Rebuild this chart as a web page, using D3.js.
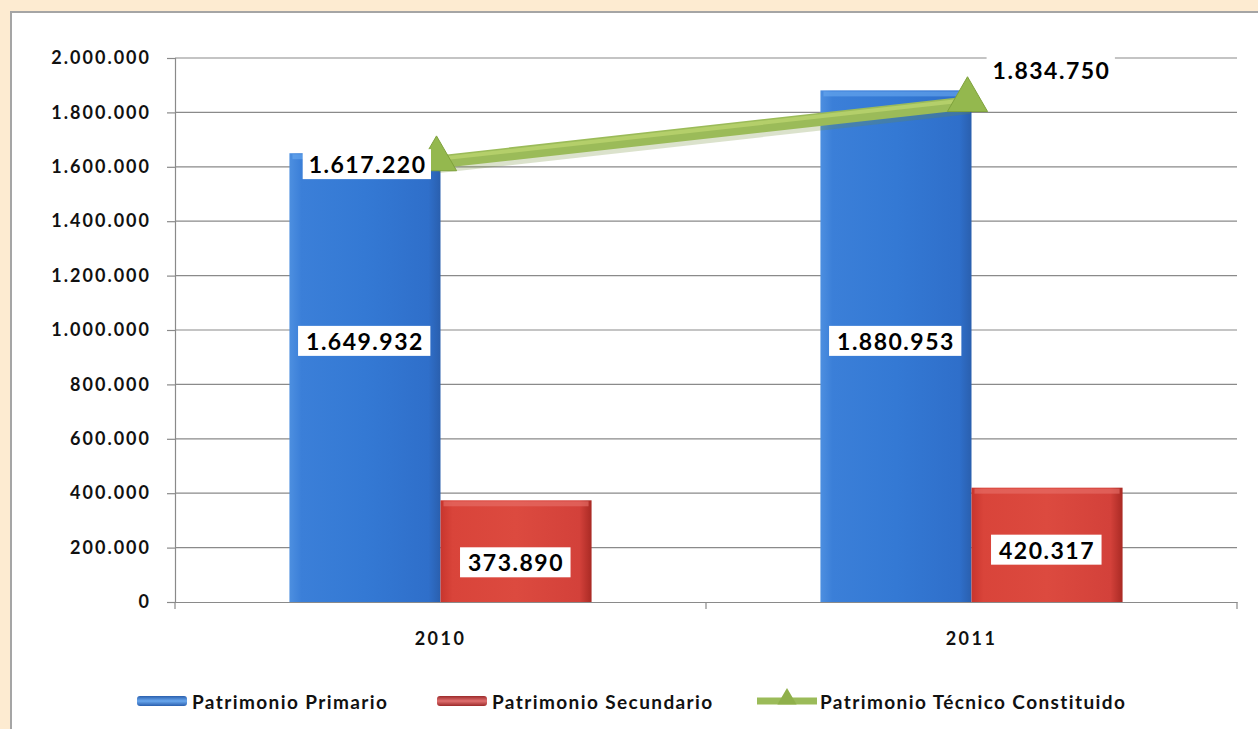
<!DOCTYPE html>
<html>
<head>
<meta charset="utf-8">
<script src="https://cdn.jsdelivr.net/npm/d3@7"></script>
<style>
  body { margin: 0; background: #fdebd1; }
  svg { display: block; font-family: Lato, "Open Sans", sans-serif; font-weight: bold; }
</style>
</head>
<body>
<svg></svg>
<script>
// -----------------------------
// DATA
// -----------------------------
const years = ["2010", "2011"];
const primario = [1649932, 1880953];
const secundario = [373890, 420317];
const tecnico = [1617220, 1834750];
const yTicks = [0, 200000, 400000, 600000, 800000, 1000000, 1200000, 1400000, 1600000, 1800000, 2000000];
const seriesNames = ["Patrimonio Primario", "Patrimonio Secundario", "Patrimonio Técnico Constituido"];

// -----------------------------
// SETUP
// -----------------------------
let width = 1258,
    height = 729;

let margin = { top: 58, bottom: 127, left: 175, right: 21 };

let svg = d3.select("svg")
            .attr("width", width)
            .attr("height", height);

let loc = d3.formatLocale({ decimal: ",", thousands: ".", grouping: [3], currency: ["", ""] });
let fmt = loc.format(",d");

// frame
svg.append("rect")
   .attr("x", 11).attr("y", 12)
   .attr("width", width).attr("height", height)
   .attr("fill", "#fff")
   .attr("stroke", "#a5a5a5")
   .attr("stroke-width", 2);

// gradients
let defs = svg.append("defs");
function grad(id, stops, vertical) {
  let g = defs.append("linearGradient").attr("id", id)
              .attr("x1", "0%").attr("x2", vertical ? "0%" : "100%")
              .attr("y1", "0%").attr("y2", vertical ? "100%" : "0%");
  stops.forEach(s => g.append("stop").attr("offset", s[0]).attr("stop-color", s[1]));
}
grad("gBlue", [["0%", "#4d8fe0"], ["8%", "#3b7fd8"], ["50%", "#3479d4"], ["92%", "#2f6fca"], ["100%", "#2a5fae"]]);
grad("gRed", [["0%", "#c8352d"], ["8%", "#d9443a"], ["50%", "#dc4a3f"], ["92%", "#d3413a"], ["100%", "#a92a24"]]);
grad("gBlueLegV", [["0%", "#2a5fae"], ["50%", "#6aa8ee"], ["100%", "#2a5fae"]], true);
grad("gRedLegV", [["0%", "#9c2a2a"], ["50%", "#e07070"], ["100%", "#9c2a2a"]], true);
grad("gGreen", [["0%", "#b5cf6e"], ["45%", "#9bbb59"], ["100%", "#7d9c3c"]], true);

// -----------------------------
// SCALES
// -----------------------------
let xScale = d3.scaleBand()
               .domain(years)
               .range([margin.left, width - margin.right])
               .paddingInner(0.431)
               .paddingOuter(0.2155);

let xSub = d3.scaleBand()
             .domain([0, 1])
             .range([0, xScale.bandwidth()]);

let yScale = d3.scaleLinear()
               .domain([0, 2000000])
               .range([height - margin.bottom, margin.top]);

// -----------------------------
// GRID + AXES
// -----------------------------
svg.append("g")
   .selectAll("line")
   .data(yTicks.slice(1))
   .enter()
   .append("line")
   .attr("x1", margin.left).attr("x2", width - margin.right)
   .attr("y1", d => yScale(d)).attr("y2", d => yScale(d))
   .attr("stroke", "#8a8a8a")
   .attr("stroke-width", 1.2);

let yAxis = svg.append("g")
   .attr("transform", `translate(${margin.left}, 0)`)
   .call(d3.axisLeft(yScale).tickValues(yTicks).tickFormat(fmt).tickSize(8).tickPadding(16));
yAxis.selectAll("text")
     .attr("font-size", 18).attr("fill", "#111")
     .attr("font-family", "Lato, sans-serif")
     .attr("letter-spacing", 2);
yAxis.selectAll("line, path").attr("stroke", "#8a8a8a").attr("stroke-width", 1.2);

let xAxis = svg.append("g")
   .attr("transform", `translate(0, ${yScale(0)})`)
   .call(d3.axisBottom(xScale).tickSize(0).tickPadding(30));
xAxis.selectAll("text")
     .attr("font-size", 18).attr("fill", "#111")
     .attr("font-family", "Lato, sans-serif")
     .attr("letter-spacing", 2.5);
xAxis.select("path").attr("stroke", "#8a8a8a").attr("stroke-width", 1.2);

// category boundary ticks
let step = xScale.step();
svg.append("g")
   .selectAll("line")
   .data([0, 1, 2])
   .enter()
   .append("line")
   .attr("x1", d => margin.left + d * step).attr("x2", d => margin.left + d * step)
   .attr("y1", yScale(0)).attr("y2", yScale(0) + 7)
   .attr("stroke", "#8a8a8a")
   .attr("stroke-width", 1.2);

// -----------------------------
// BARS
// -----------------------------
let barData = [];
years.forEach((y, i) => {
  barData.push({ year: y, s: 0, v: primario[i] });
  barData.push({ year: y, s: 1, v: secundario[i] });
});

svg.append("g")
   .selectAll("rect")
   .data(barData)
   .enter()
   .append("rect")
   .attr("x", d => xScale(d.year) + xSub(d.s))
   .attr("y", d => yScale(d.v))
   .attr("width", xSub.bandwidth())
   .attr("height", d => yScale(0) - yScale(d.v))
   .attr("fill", d => d.s === 0 ? "url(#gBlue)" : "url(#gRed)");

// top highlight on bars
svg.append("g")
   .selectAll("rect")
   .data(barData)
   .enter()
   .append("rect")
   .attr("x", d => xScale(d.year) + xSub(d.s) + 3)
   .attr("y", d => yScale(d.v) + 1)
   .attr("width", xSub.bandwidth() - 6)
   .attr("height", 5)
   .attr("fill", d => d.s === 0 ? "#6aaaf0" : "#e8716a")
   .attr("opacity", 0.6);

// bar labels
function boxLabel(g, x, y, txt, anchor, pad) {
  let t = g.append("text")
           .attr("x", x).attr("y", y)
           .attr("text-anchor", anchor)
           .attr("dominant-baseline", "central")
           .attr("font-size", 23)
           .attr("letter-spacing", 1.5)
           .attr("fill", "#000")
           .text(txt);
  let b = t.node().getBBox();
  g.insert("rect", "text")
   .attr("x", b.x - pad).attr("y", b.y - 1)
   .attr("width", b.width + pad * 2 - 1.5).attr("height", b.height + 2)
   .attr("fill", "#fff");
}

barData.forEach(d => {
  let g = svg.append("g");
  let cx = xScale(d.year) + xSub(d.s) + xSub.bandwidth() / 2;
  let cy = d.s === 0 ? yScale(960000) : yScale(d.v) + 62;
  boxLabel(g, cx, cy, fmt(d.v), "middle", 8);
});

// -----------------------------
// LINE
// -----------------------------
let lineData = years.map((y, i) => ({ year: y, v: tecnico[i] }));
let lx = d => xScale(d.year) + xScale.bandwidth() / 2 - 4;
let line = d3.line()
             .x(lx)
             .y(d => yScale(d.v));

svg.append("path")
   .datum(lineData)
   .attr("d", line)
   .attr("fill", "none")
   .attr("stroke", "#6f8a34")
   .attr("stroke-width", 14)
   .attr("opacity", 0.25)
   .attr("transform", "translate(2,4)");

svg.append("path")
   .datum(lineData)
   .attr("d", line)
   .attr("fill", "none")
   .attr("stroke", "#9bbb59")
   .attr("stroke-width", 13);

svg.append("path")
   .datum(lineData)
   .attr("d", line)
   .attr("fill", "none")
   .attr("stroke", "#b4cf6a")
   .attr("stroke-width", 4)
   .attr("transform", "translate(0,-3)");

svg.append("g")
   .selectAll("path")
   .data(lineData)
   .enter()
   .append("path")
   .attr("d", d3.symbol().type(d3.symbolTriangle).size(700))
   .attr("transform", d => `translate(${lx(d)}, ${yScale(d.v) - 3})`)
   .attr("fill", "#94b84e")
   .attr("stroke", "#7fa23c")
   .attr("stroke-width", 1);

// line labels
let lg = svg.append("g");
boxLabel(lg, lx(lineData[0]) - 10, yScale(tecnico[0]) + 2, fmt(tecnico[0]), "end", 6);
let lg2 = svg.append("g");
boxLabel(lg2, lx(lineData[1]) + 84, yScale(tecnico[1]) - 33, fmt(tecnico[1]), "middle", 6);

// -----------------------------
// LEGEND
// -----------------------------
let legY = 701;
let legX = [137, 437, 757];
let leg = svg.append("g");

leg.append("rect")
   .attr("x", legX[0]).attr("y", legY - 5).attr("width", 50).attr("height", 10).attr("rx", 3)
   .attr("fill", "url(#gBlueLegV)");
leg.append("rect")
   .attr("x", legX[1]).attr("y", legY - 5).attr("width", 50).attr("height", 10).attr("rx", 3)
   .attr("fill", "url(#gRedLegV)");
leg.append("line")
   .attr("x1", legX[2]).attr("x2", legX[2] + 60)
   .attr("y1", legY).attr("y2", legY)
   .attr("stroke", "#9bbb59").attr("stroke-width", 7);
leg.append("path")
   .attr("d", d3.symbol().type(d3.symbolTriangle).size(160))
   .attr("transform", `translate(${legX[2] + 30}, ${legY - 2})`)
   .attr("fill", "#8fb04a");

leg.selectAll("text")
   .data(seriesNames)
   .enter()
   .append("text")
   .attr("x", (d, i) => legX[i] + (i === 2 ? 63 : 55))
   .attr("y", legY)
   .attr("dominant-baseline", "central")
   .attr("font-size", 19)
   .attr("letter-spacing", 1.4)
   .attr("fill", "#111")
   .text(d => d);
</script>
</body>
</html>
